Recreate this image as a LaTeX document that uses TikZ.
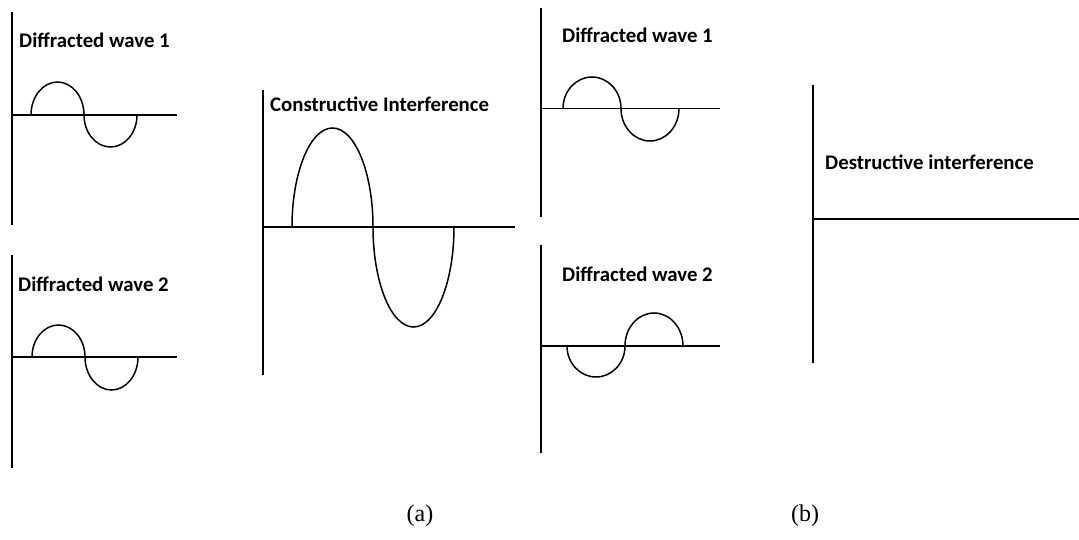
\documentclass[tikz,border=0pt]{standalone}
\usepackage{fontspec}
\setmainfont{Liberation Serif}
\newfontfamily\wavefont{Carlito}
\usepackage{tikz}

\begin{document}
\begin{tikzpicture}[x=1pt,y=-1pt,
        axis/.style={line width=1.7pt},
        wave/.style={line width=1.5pt},
        wavelabel/.style={anchor=base west,inner sep=0pt,font=\fontsize{20.8}{24}\wavefont\bfseries},
        caption/.style={inner sep=0pt,font=\fontsize{24}{28}\selectfont}]
        \useasboundingbox (0,0) rectangle (1079,540);

        % (a) diffracted wave 1
        \draw[axis] (12,12)--(12,225);
        \draw[axis] (12,115)--(177,115);
        \draw[wave] (31,115) arc[start angle=180,end angle=0,x radius=26.5pt,y radius=33pt]
                arc[start angle=180,end angle=360,x radius=26.5pt,y radius=32pt];
        \draw (19,47.5) node [wavelabel] (w1a) {Diffracted wave 1};

        % (a) diffracted wave 2
        \draw[axis] (12,255)--(12,468);
        \draw[axis] (12,357)--(177,357);
        \draw[wave] (32,357) arc[start angle=180,end angle=0,x radius=26.5pt,y radius=32pt]
                arc[start angle=180,end angle=360,x radius=26.5pt,y radius=33pt];
        \draw (18,291) node [wavelabel] (w2a) {Diffracted wave 2};

        % (a) sum
        \draw[axis] (263,90)--(263,375);
        \draw[axis] (263,227)--(515,227);
        \draw[wave] (292,227) arc[start angle=180,end angle=0,x radius=40.5pt,y radius=99pt]
                arc[start angle=180,end angle=360,x radius=40.5pt,y radius=100pt];
        \draw (270,112) node [wavelabel] (cons) {Constructive Interference};

        % (b) diffracted wave 1
        \draw[axis] (541,8)--(541,217);
        \draw[axis] (541,108.5)--(720,108.5);
        \draw[wave] (563,108.5) arc[start angle=180,end angle=0,x radius=29pt,y radius=31.5pt]
                arc[start angle=180,end angle=360,x radius=29pt,y radius=32.5pt];
        \draw (562,43) node [wavelabel] (w1b) {Diffracted wave 1};

        % (b) diffracted wave 2, opposite phase
        \draw[axis] (541,245)--(541,453);
        \draw[axis] (541,346)--(720,346);
        \draw[wave] (567,346) arc[start angle=180,end angle=360,x radius=29pt,y radius=31pt]
                arc[start angle=180,end angle=0,x radius=29pt,y radius=33pt];
        \draw (562,281) node [wavelabel] (w2b) {Diffracted wave 2};

        % (b) sum
        \draw[axis] (813,85)--(813,363);
        \draw[axis] (813,219)--(1079,219);
        \draw (825,170) node [wavelabel] (dest) {Destructive interference};

        \draw (420,516) node [caption] (capa) {(a)};
        \draw (805,516) node [caption] (capb) {(b)};
    \end{tikzpicture}
\end{document}
